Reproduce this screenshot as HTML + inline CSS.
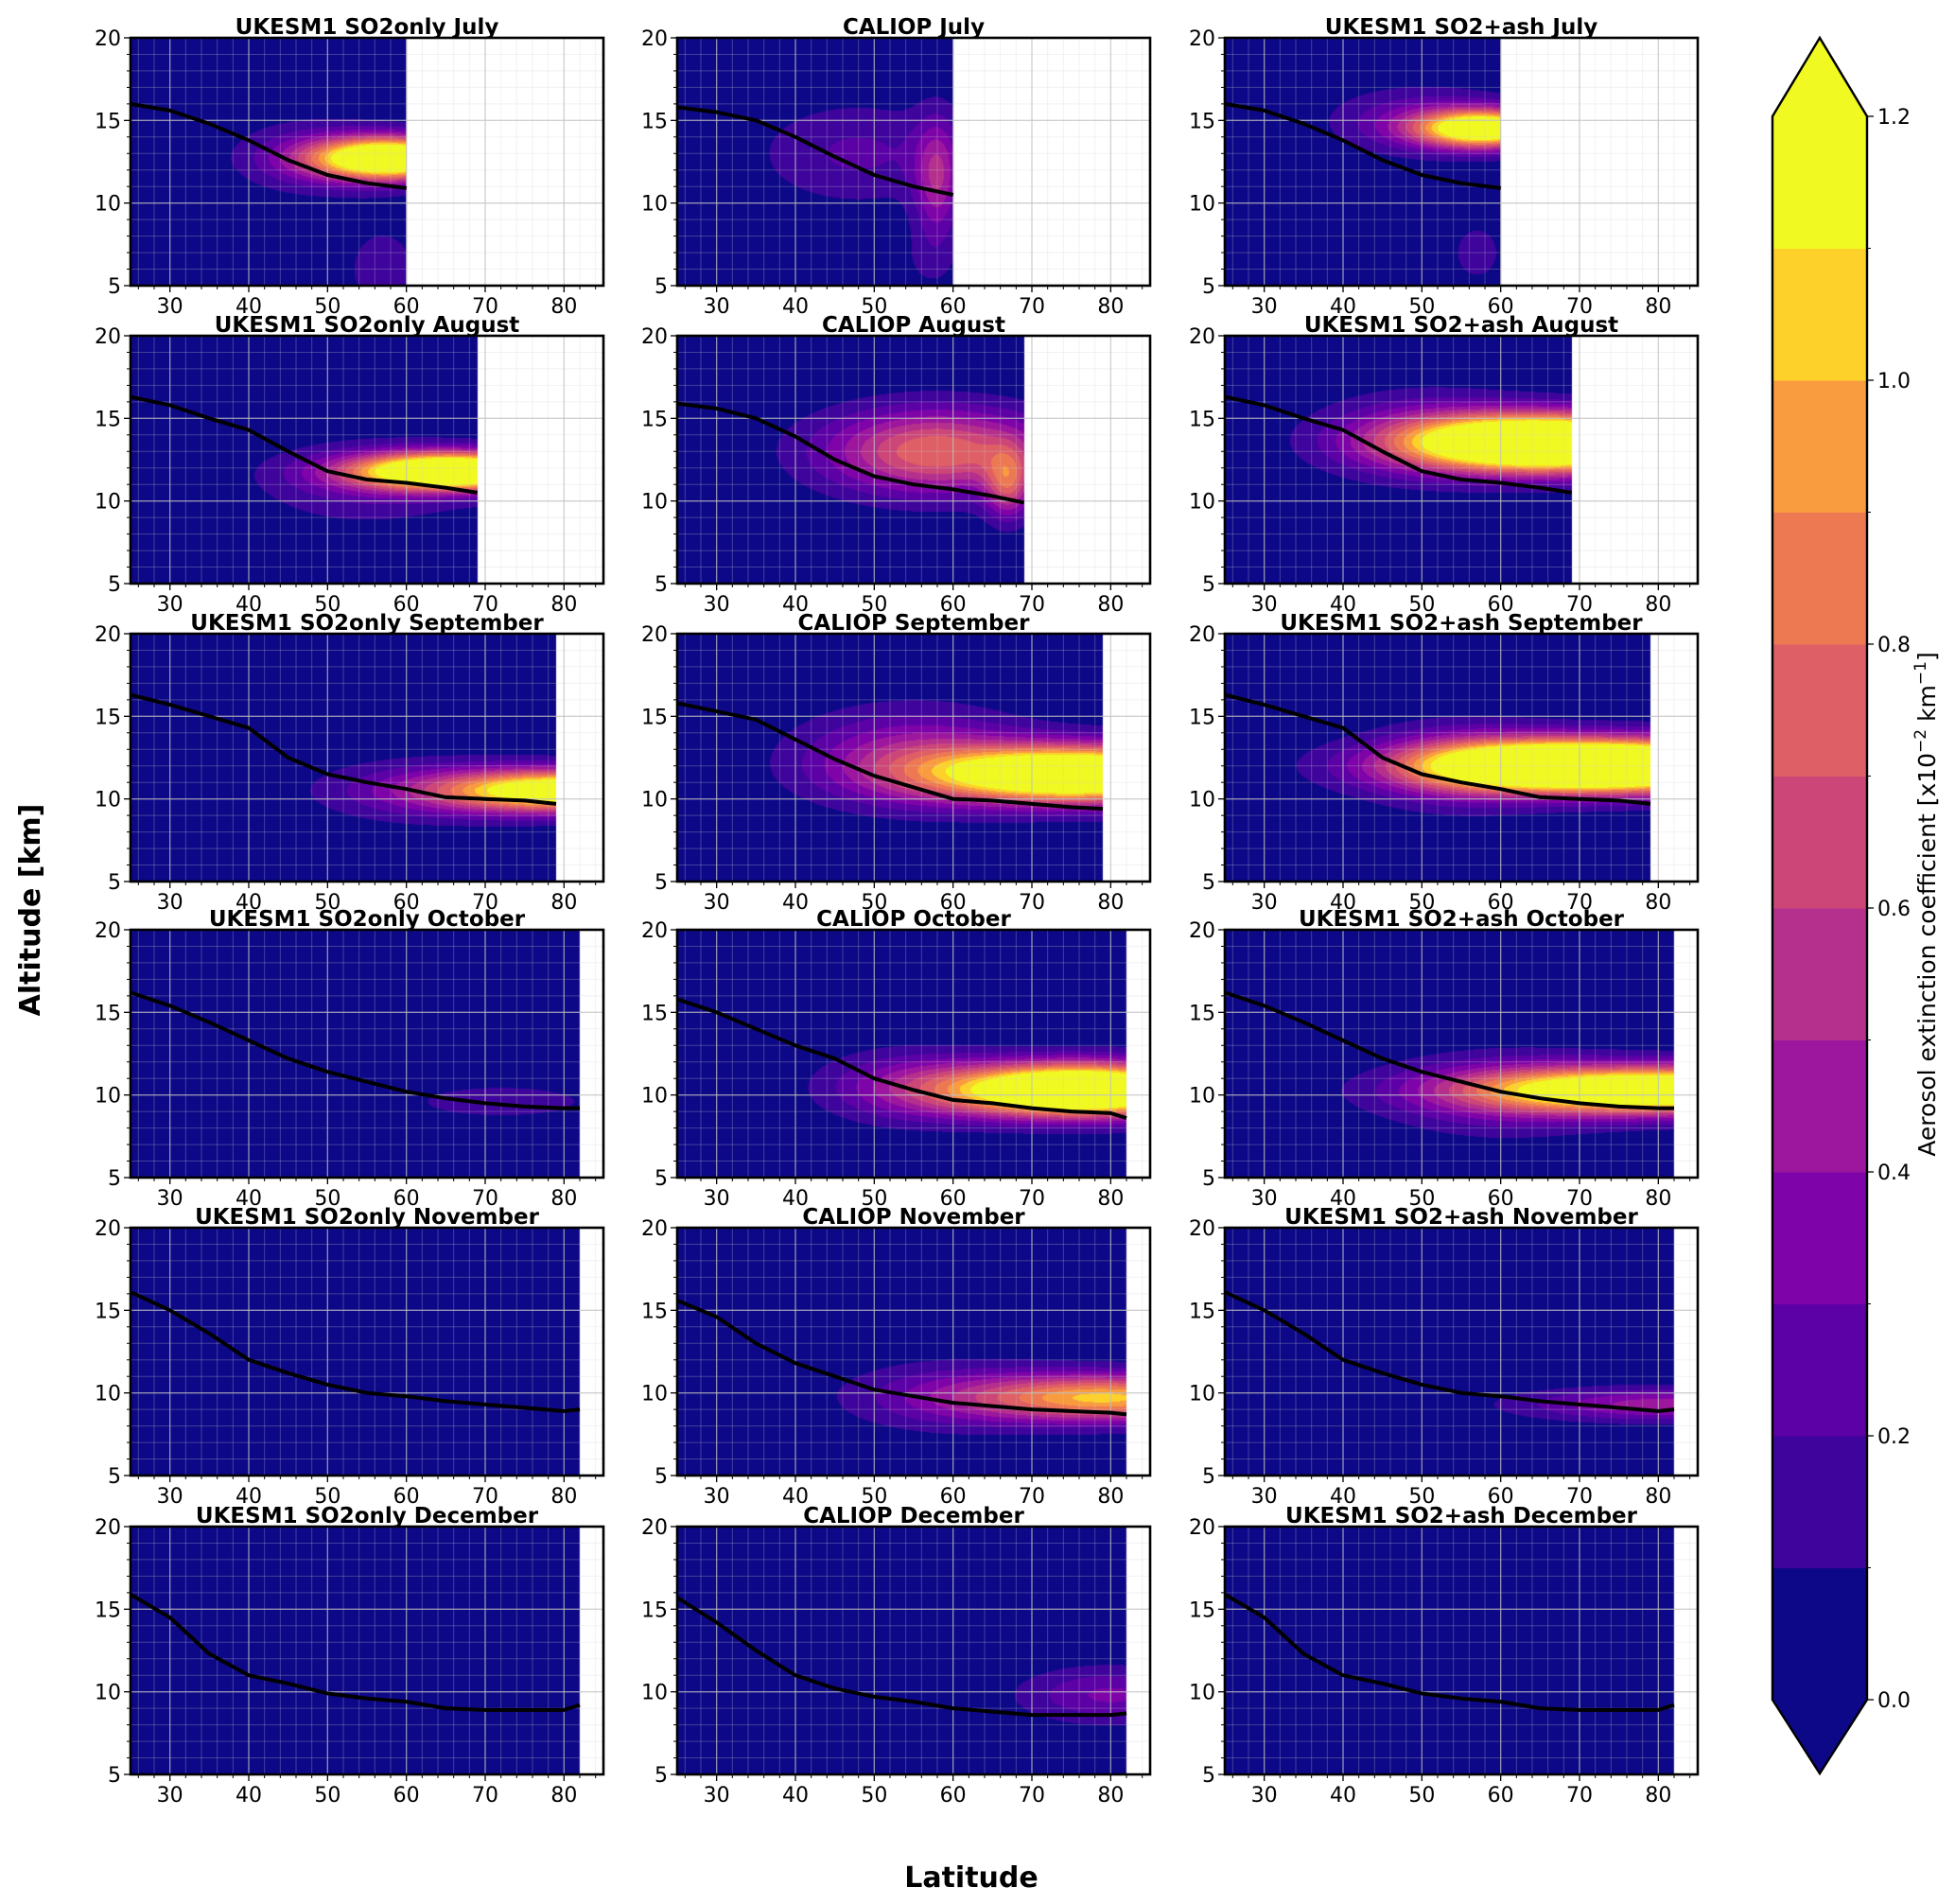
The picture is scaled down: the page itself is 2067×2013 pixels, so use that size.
<!DOCTYPE html>
<html><head><meta charset="utf-8">
<style>
html,body{margin:0;padding:0;background:#fff;}
#wrap{position:relative;width:2067px;height:2013px;overflow:hidden;}
canvas,svg{position:absolute;left:0;top:0;}
text{font-family:"DejaVu Sans","Liberation Sans",sans-serif;}
</style></head>
<body>
<div id="wrap">
<canvas id="cv" width="2067" height="2013"></canvas>
<svg id="sv" width="2067" height="2013" xmlns="http://www.w3.org/2000/svg"></svg>
</div>
<script>
// ---- data ----
const months = ["July","August","September","October","November","December"];
const sources = ["UKESM1 SO2only","CALIOP","UKESM1 SO2+ash"];
const latMax = [60,69,79,82,82,82];
const levels = [0,0.1,0.2,0.3,0.4,0.5,0.6,0.7,0.8,0.9,1.0,1.1,1.2];
const levelColors = ["#0d0887","#3e049c","#5c01a6","#7e03a8","#9c179e","#b52f8c","#cc4778","#de5f65","#ed7953","#f99b3f","#fdd12a","#f0f921"];
const cbTicks = [0.0,0.2,0.4,0.6,0.8,1.0,1.2];
const xTicks = [30,40,50,60,70,80];
const yTicks = [5,10,15,20];
// blobs: [lat, alt, sigmaLat, sigmaAlt, amplitude] per panel (row-major: month x source)
const blobs = [
 [[58,12.7,7,0.9,1.6],[48,12.8,7,1.6,0.22],[57,6,4,2.2,0.15]],
 [[48,13,9,2.2,0.22],[58,11.5,2,2.5,0.45],[57,6.5,3,1.5,0.1]],
 [[58,14.5,6,0.8,1.4],[50,15,8,1.4,0.28],[57,7,4,2.2,0.12]],
 [[66,11.8,9,0.8,1.7],[55,11,10,1.8,0.2]],
 [[58,13,10,1.8,0.8],[67,11,2,1.5,0.55]],
 [[66,13.5,12,1.2,2.0],[50,14,9,1.8,0.3]],
 [[80,10.5,11,0.9,1.4],[62,10.5,10,1.4,0.22]],
 [[76,11.5,13,1.2,1.7],[55,12.5,10,2,0.45]],
 [[72,12,15,1.1,2.2],[55,12,8,1.8,0.3]],
 [[72,9.6,9,0.8,0.17]],
 [[76,10.3,11,1.1,1.9],[55,10.5,8,1.5,0.35]],
 [[80,10.3,16,1.0,1.6],[60,10,10,1.8,0.25]],
 [],
 [[80,9.7,12,1.0,1.0],[60,9.8,10,1.5,0.25]],
 [[80,9.3,12,0.7,0.45]],
 [],
 [[80,9.8,8,1.2,0.32]],
 []
];
// tropopause lines
const tpLats = [
 [25,30,35,40,45,50,55,60],
 [25,30,35,40,45,50,55,60,65,69],
 [25,30,35,40,45,50,55,60,65,70,75,79],
 [25,30,35,40,45,50,55,60,65,70,75,80,82],
 [25,30,35,40,45,50,55,60,65,70,75,80,82],
 [25,30,35,40,45,50,55,60,65,70,75,80,82]
];
const tpModel = [
 [16,15.6,14.8,13.8,12.6,11.7,11.2,10.9],
 [16.3,15.8,15.0,14.3,13.0,11.8,11.3,11.1,10.8,10.5],
 [16.3,15.7,15.0,14.3,12.5,11.5,11.0,10.6,10.1,10.0,9.9,9.7],
 [16.2,15.4,14.4,13.3,12.2,11.4,10.8,10.2,9.8,9.5,9.3,9.2,9.2],
 [16.1,15.0,13.6,12.0,11.2,10.5,10.0,9.8,9.5,9.3,9.1,8.9,9.0],
 [15.9,14.5,12.3,11.0,10.5,9.9,9.6,9.4,9.0,8.9,8.9,8.9,9.2]
];
const tpCaliop = [
 [15.8,15.5,15.0,14.0,12.8,11.7,11.0,10.5],
 [15.9,15.6,15.0,13.9,12.5,11.5,11.0,10.7,10.3,9.9],
 [15.8,15.3,14.8,13.6,12.4,11.4,10.7,10.0,9.9,9.7,9.5,9.4],
 [15.8,15.0,14.0,13.0,12.2,11.0,10.3,9.7,9.5,9.2,9.0,8.9,8.6],
 [15.6,14.6,13.0,11.8,11.0,10.2,9.8,9.4,9.2,9.0,8.9,8.8,8.7],
 [15.7,14.2,12.5,11.0,10.2,9.7,9.4,9.0,8.8,8.6,8.6,8.6,8.7]
];
// ---- layout ----
const colX=[138,716,1295], rowY=[40,355,670,983,1298,1614], PW=500, PH=262;
const xMin=25,xMax=85,yMin=5,yMax=20;
const NS="http://www.w3.org/2000/svg";
const svg=document.getElementById('sv');
const ctx=document.getElementById('cv').getContext('2d');
function mk(tag,attrs,parent){const e=document.createElementNS(NS,tag);for(const k in attrs)e.setAttribute(k,attrs[k]);(parent||svg).appendChild(e);return e;}
function colorFor(v){for(let i=levels.length-2;i>=0;i--){if(v>=levels[i])return levelColors[i];}return levelColors[0];}

for(let r=0;r<6;r++){for(let c=0;c<3;c++){
  const idx=r*3+c, x0=colX[c], y0=rowY[r];
  const sx=v=>x0+(v-xMin)/(xMax-xMin)*PW;
  const sy=v=>y0+PH-(v-yMin)/(yMax-yMin)*PH;
  const g=mk('g',{});
  
  
  const xe=Math.round(sx(latMax[r]));
  const bl=blobs[idx];
  for(let px=x0;px<xe;px++){
    const lat=xMin+(px+0.5-x0)/PW*(xMax-xMin);
    for(let py=y0;py<y0+PH;py++){
      const alt=yMax-(py+0.5-y0)/PH*(yMax-yMin);
      let v=0;
      for(const b of bl){const dl=(lat-b[0])/b[2], da=(alt-b[1])/b[3];v+=b[4]*Math.exp(-0.5*(dl*dl+da*da));}
      ctx.fillStyle=colorFor(v);ctx.fillRect(px,py,1,1);
    }
  }
  // minor grid
  for(let v=26;v<85;v+=2){if(v%10===0)continue;mk('line',{x1:sx(v),x2:sx(v),y1:y0,y2:y0+PH,stroke:'#d0d0d0','stroke-width':1,'stroke-opacity':0.28},g);}
  for(let v=6;v<20;v++){if(v%5===0)continue;mk('line',{x1:x0,x2:x0+PW,y1:sy(v),y2:sy(v),stroke:'#d0d0d0','stroke-width':1,'stroke-opacity':0.28},g);}
  // major grid
  for(const v of xTicks){mk('line',{x1:sx(v),x2:sx(v),y1:y0,y2:y0+PH,stroke:'#c0c0c0','stroke-width':1.3,'stroke-opacity':0.75},g);}
  for(const v of [10,15]){mk('line',{x1:x0,x2:x0+PW,y1:sy(v),y2:sy(v),stroke:'#c0c0c0','stroke-width':1.3,'stroke-opacity':0.75},g);}
  // tropopause line
  const lats=tpLats[r], alts=(c===1?tpCaliop:tpModel)[r];
  let d='';for(let i=0;i<lats.length;i++){d+=(i?'L':'M')+sx(lats[i]).toFixed(1)+','+sy(alts[i]).toFixed(1);}
  const tl=mk('path',{d:d,fill:'none',stroke:'#000','stroke-width':4,'stroke-linejoin':'round'},g);
  
  
  // frame
  mk('rect',{x:x0,y:y0,width:PW,height:PH,fill:'none',stroke:'#000','stroke-width':2.6},g);
  // ticks
  for(let v=26;v<85;v+=2){if(v%10===0)continue;mk('line',{x1:sx(v),x2:sx(v),y1:y0+PH,y2:y0+PH+4,stroke:'#000','stroke-width':1},g);}
  for(let v=6;v<20;v++){if(v%5===0)continue;mk('line',{x1:x0,x2:x0-4,y1:sy(v),y2:sy(v),stroke:'#000','stroke-width':1},g);}
  for(const v of xTicks){mk('line',{x1:sx(v),x2:sx(v),y1:y0+PH,y2:y0+PH+7,stroke:'#000','stroke-width':1.3},g);
    const t=mk('text',{x:sx(v),y:y0+PH+29,'text-anchor':'middle','font-size':22,fill:'#000'},g);t.textContent=v;}
  for(const v of yTicks){mk('line',{x1:x0,x2:x0-7,y1:sy(v),y2:sy(v),stroke:'#000','stroke-width':1.3},g);
    const t=mk('text',{x:x0-10,y:sy(v)+8,'text-anchor':'end','font-size':22,fill:'#000'},g);t.textContent=v;}
  const tt=mk('text',{x:x0+PW/2,y:y0-4,'text-anchor':'middle','font-size':23,'font-weight':'bold',fill:'#000'},g);
  tt.textContent=sources[c]+' '+months[r];
  
  
}}
// axis labels
const yl=mk('text',{x:0,y:0,transform:'translate(42,962) rotate(-90)','text-anchor':'middle','font-size':30,'font-weight':'bold'});
yl.textContent='Altitude [km]';


const xl=mk('text',{x:1027,y:1995,'text-anchor':'middle','font-size':30,'font-weight':'bold'});
xl.textContent='Latitude';


// colorbar
const cbL=1874,cbR=1974,cbTop=123,cbBot=1797,cbMid=(cbL+cbR)/2;
const cg=mk('g',{});


const cy=v=>cbBot-(v-levels[0])/(levels[levels.length-1]-levels[0])*(cbBot-cbTop);
for(let i=0;i<levelColors.length;i++){mk('rect',{x:cbL,y:cy(levels[i+1]),width:cbR-cbL,height:cy(levels[i])-cy(levels[i+1])+0.5,fill:levelColors[i]},cg);}
mk('polygon',{points:`${cbL},${cbTop} ${cbMid},40 ${cbR},${cbTop}`,fill:levelColors[levelColors.length-1]},cg);
mk('polygon',{points:`${cbL},${cbBot} ${cbMid},1875 ${cbR},${cbBot}`,fill:levelColors[0]},cg);
mk('polygon',{points:`${cbL},${cbTop} ${cbMid},40 ${cbR},${cbTop} ${cbR},${cbBot} ${cbMid},1875 ${cbL},${cbBot}`,fill:'none',stroke:'#000','stroke-width':2.4},cg);
for(let i=0;i<levels.length;i++){mk('line',{x1:cbR,x2:cbR+4,y1:cy(levels[i]),y2:cy(levels[i]),stroke:'#000','stroke-width':1},cg);}
for(const v of cbTicks){mk('line',{x1:cbR,x2:cbR+7,y1:cy(v),y2:cy(v),stroke:'#000','stroke-width':1.3},cg);
  const t=mk('text',{x:cbR+11,y:cy(v)+8,'font-size':22},cg);t.textContent=v.toFixed(1);}
const cl=mk('text',{x:0,y:0,transform:'translate(2046,956) rotate(-90)','text-anchor':'middle','font-size':25},cg);
cl.innerHTML='Aerosol extinction coefficient [x10<tspan baseline-shift="super" font-size="17">−2</tspan> km<tspan baseline-shift="super" font-size="17">−1</tspan>]';


</script>
</body></html>
